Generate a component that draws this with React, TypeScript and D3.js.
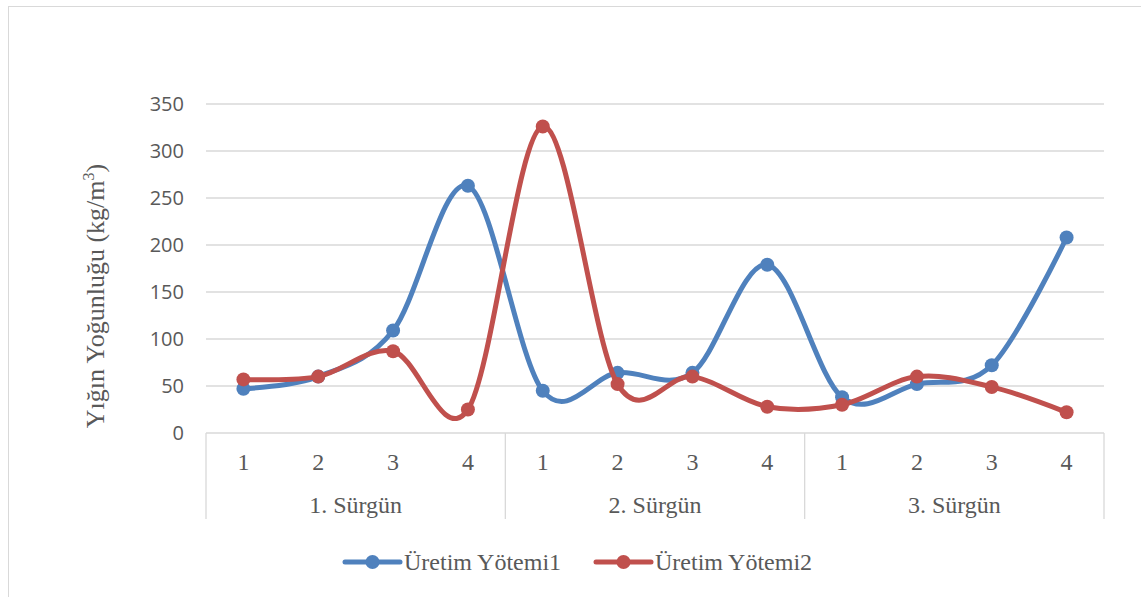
import React from "react";
import * as d3 from "d3";

const groups = ["1. Sürgün", "2. Sürgün", "3. Sürgün"];
const subCats = ["1", "2", "3", "4"];
const yTicks = [0, 50, 100, 150, 200, 250, 300, 350];
const seriesNames = ["Üretim Yötemi1", "Üretim Yötemi2"];
const method1 = [47, 60, 109, 263, 45, 64, 64, 179, 38, 52, 72, 208];
const method2 = [57, 60, 87, 25, 326, 52, 60, 28, 30, 60, 49, 22];
const colors = ["#4F81BD", "#C0504D"];

const W = 1141;
const H = 597;
const plot = { left: 206, right: 1104, top: 104, bottom: 433 };

export default function App() {
  const cats = groups.flatMap((g) => subCats.map((s) => `${g}|${s}`));
  const x = d3.scaleBand().domain(cats).range([plot.left, plot.right]);
  const y = d3.scaleLinear().domain([0, 350]).range([plot.bottom, plot.top]);
  const cx = (i: number) => (x(cats[i]) as number) + x.bandwidth() / 2;
  const line = d3
    .line<number>()
    .x((_, i) => cx(i))
    .y((d) => y(d))
    .curve(d3.curveCatmullRom.alpha(0));
  const groupW = x.bandwidth() * subCats.length;
  const serif = "Liberation Serif, Times New Roman, DejaVu Serif, serif";
  const sans = "Open Sans, Liberation Sans, sans-serif";
  const data = [method1, method2];
  const legendX = [345, 596];

  return (
    <svg width={W} height={H} style={{ position: "absolute", left: 0, top: 0 }}>
      <rect x={0} y={0} width={W} height={H} fill="#fff" />
      <rect x={8.5} y={6.5} width={1140} height={600} fill="none" stroke="#D9D9D9" />
      {/* gridlines */}
      {yTicks.slice(1).map((t) => (
        <line key={t} x1={plot.left} x2={plot.right} y1={y(t)} y2={y(t)} stroke="#D9D9D9" strokeWidth={1.3} />
      ))}
      {/* y tick labels */}
      {yTicks.map((t) => (
        <text key={t} x={184} y={y(t)} dy="0.36em" textAnchor="end" style={{ fontFamily: sans, fontSize: 20 }} fill="#595959">
          {t}
        </text>
      ))}
      {/* category axis */}
      <line x1={plot.left} x2={plot.right} y1={plot.bottom} y2={plot.bottom} stroke="#D9D9D9" strokeWidth={1.3} />
      {groups.map((g, gi) => {
        const gx = plot.left + gi * groupW;
        return (
          <text key={g} x={gx + groupW / 2} y={513} textAnchor="middle" style={{ fontFamily: serif, fontSize: 24 }} fill="#595959">
            {g}
          </text>
        );
      })}
      {d3.range(groups.length + 1).map((i) => (
        <line key={i} x1={plot.left + i * groupW} x2={plot.left + i * groupW} y1={plot.bottom} y2={519} stroke="#D9D9D9" strokeWidth={1.3} />
      ))}
      {cats.map((c, i) => (
        <text key={c} x={cx(i)} y={470} textAnchor="middle" style={{ fontFamily: serif, fontSize: 24 }} fill="#595959">
          {subCats[i % subCats.length]}
        </text>
      ))}
      {/* y axis title */}
      <text
        transform={`translate(104, 296) rotate(-90)`}
        textAnchor="middle"
        style={{ fontFamily: serif, fontSize: 26 }}
        fill="#595959"
      >
        Yığın Yoğunluğu (kg/m<tspan dy={-10} style={{ fontSize: 16 }}>3</tspan>
        <tspan dy={10}>)</tspan>
      </text>
      {/* series */}
      {data.map((vals, si) => (
        <g key={si}>
          <path d={line(vals) as string} fill="none" stroke={colors[si]} strokeWidth={5} strokeLinejoin="round" />
          {vals.map((v, i) => (
            <circle key={i} cx={cx(i)} cy={y(v)} r={7} fill={colors[si]} />
          ))}
        </g>
      ))}
      {/* legend */}
      {seriesNames.map((n, si) => (
        <g key={n}>
          <line x1={legendX[si]} x2={legendX[si] + 55} y1={562} y2={562} stroke={colors[si]} strokeWidth={5} strokeLinecap="round" />
          <circle cx={legendX[si] + 27.5} cy={562} r={7} fill={colors[si]} />
          <text x={legendX[si] + 59} y={562} dy="0.34em" style={{ fontFamily: serif, fontSize: 24 }} fill="#595959">
            {n}
          </text>
        </g>
      ))}
    </svg>
  );
}
